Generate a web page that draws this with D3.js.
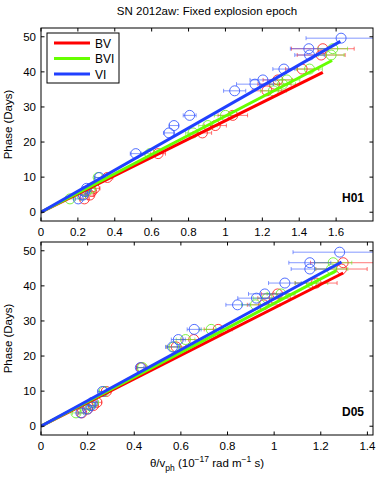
<!DOCTYPE html>
<html><head><meta charset="utf-8">
<script src="https://cdn.jsdelivr.net/npm/d3@7"></script>
<style>body{margin:0;background:#fff}svg{display:block;font-family:"Liberation Sans",Arial,sans-serif}</style>
</head><body><svg id="c" width="382" height="481"></svg>
<script>
// ---- data ----
const title = "SN 2012aw: Fixed explosion epoch";
const seriesNames = ["BV", "BVI", "VI"];
const phases = [3.8, 4.9, 5.9, 6.8, 9.9, 16.7, 22.6, 24.7, 27.6, 34.6, 36.5, 37.7, 40.8, 44.8, 46.6, 49.6];

// panel H01
const h01_BV_x   = [0.235, 0.265, 0.275, 0.29, 0.36, 0.635, 0.875, 0.945, 1.04, 1.225, 1.266, 1.284, 1.416, 1.519, 1.528];
const h01_BV_err = [0.02, 0.02, 0.02, 0.03, 0.03, 0.04, 0.05, 0.06, 0.08, 0.08, 0.09, 0.08, 0.09, 0.13, 0.17];
const h01_BVI_x  = [0.157, 0.22, 0.245, 0.27, 0.31, 0.59, 0.824, 0.905, 1.0, 1.26, 1.31, 1.333, 1.456, 1.573, 1.582];
const h01_BVI_err= [0.02, 0.02, 0.02, 0.02, 0.02, 0.03, 0.04, 0.05, 0.06, 0.07, 0.07, 0.07, 0.07, 0.07, 0.08];
const h01_VI_x   = [0.202, 0.229, 0.238, 0.247, 0.316, 0.514, 0.694, 0.721, 0.806, 1.05, 1.16, 1.203, 1.317, 1.456, 1.452, 1.627];
const h01_VI_err = [0.015, 0.015, 0.015, 0.02, 0.02, 0.03, 0.03, 0.025, 0.035, 0.06, 0.1, 0.07, 0.06, 0.08, 0.1, 0.19];
const h01_slopes = [26.1, 27.4, 30.0];
const h01_xEnd   = [1.528, 1.578, 1.623];

// panel D05
const d05_BV_x   = [0.175, 0.2, 0.225, 0.24, 0.28, 0.43, 0.58, 0.655, 0.76, 0.955, 1.0, 1.015, 1.18, 1.289, 1.296];
const d05_BV_err = [0.015, 0.015, 0.02, 0.02, 0.02, 0.02, 0.04, 0.05, 0.06, 0.07, 0.07, 0.07, 0.09, 0.11, 0.14];
const d05_BVI_x  = [0.15, 0.19, 0.21, 0.225, 0.27, 0.435, 0.57, 0.62, 0.73, 0.92, 0.97, 1.03, 1.16, 1.246, 1.253];
const d05_BVI_err= [0.015, 0.015, 0.015, 0.02, 0.02, 0.02, 0.03, 0.04, 0.05, 0.06, 0.06, 0.06, 0.07, 0.07, 0.08];
const d05_VI_x   = [0.171, 0.2, 0.214, 0.22, 0.264, 0.426, 0.564, 0.589, 0.657, 0.843, 0.924, 0.96, 1.046, 1.153, 1.153, 1.281];
const d05_VI_err = [0.012, 0.012, 0.015, 0.015, 0.02, 0.015, 0.03, 0.03, 0.03, 0.05, 0.08, 0.07, 0.07, 0.08, 0.09, 0.2];
const d05_slopes = [33.7, 35.0, 36.3];
const d05_xEnd   = [1.296, 1.267, 1.289];

const yTicks = [0, 10, 20, 30, 40, 50];
const h01_xTicks = [0, 0.2, 0.4, 0.6, 0.8, 1, 1.2, 1.4, 1.6];
const d05_xTicks = [0, 0.2, 0.4, 0.6, 0.8, 1, 1.2, 1.4];

const lineColors = ["#ff0000", "#66ff00", "#2040ff"];
const markColors = ["#ff2020", "#66ee22", "#3355ff"];

// ---- drawing ----
const svg = d3.select("#c");
const L = 41, R = 373;

svg.append("text").attr("x", 207).attr("y", 15).attr("text-anchor", "middle")
  .attr("font-size", 11.5).text(title);

function panel(top, bottom, xmax, xTicks, xs, errs, slopes, xEnd, tag) {
  const x = d3.scaleLinear().domain([0, xmax]).range([L, R]);
  const y = d3.scaleLinear().domain([-2.5, 52.5]).range([bottom, top]);
  const g = svg.append("g");
  const clipId = "clip" + tag;
  svg.append("clipPath").attr("id", clipId).append("rect")
    .attr("x", L).attr("y", top).attr("width", R - L).attr("height", bottom - top);
  const pg = g.append("g").attr("clip-path", `url(#${clipId})`);

  // points with horizontal error bars
  xs.forEach((arr, si) => {
    const pts = arr.map((v, i) => ({x: v, e: errs[si][i], p: phases[i]}));
    const sg = pg.append("g");
    sg.selectAll("line.eb").data(pts).join("line")
      .attr("x1", d => x(d.x - d.e)).attr("x2", d => x(d.x + d.e))
      .attr("y1", d => y(d.p)).attr("y2", d => y(d.p))
      .attr("stroke", markColors[si]).attr("stroke-opacity", 0.6).attr("stroke-width", 1);
    [-1, 1].forEach(s => {
      sg.selectAll("line.cap" + s).data(pts).join("line")
        .attr("x1", d => x(d.x + s * d.e)).attr("x2", d => x(d.x + s * d.e))
        .attr("y1", d => y(d.p) - 2).attr("y2", d => y(d.p) + 2)
        .attr("stroke", markColors[si]).attr("stroke-opacity", 0.6).attr("stroke-width", 1);
    });
    sg.selectAll("circle").data(pts).join("circle")
      .attr("cx", d => x(d.x)).attr("cy", d => y(d.p)).attr("r", 5)
      .attr("fill", "none").attr("stroke", markColors[si]).attr("stroke-width", 1)
      .attr("stroke-opacity", 0.85);
  });

  // fitted lines through origin
  slopes.forEach((s, si) => {
    pg.append("line")
      .attr("x1", x(0)).attr("y1", y(0))
      .attr("x2", x(xEnd[si])).attr("y2", y(s * xEnd[si]))
      .attr("stroke", lineColors[si]).attr("stroke-width", 3);
  });

  // axes box & ticks (inside, matlab style)
  const ax = g.append("g");
  ax.append("rect").attr("x", L).attr("y", top).attr("width", R - L).attr("height", bottom - top)
    .attr("fill", "none").attr("stroke", "#000").attr("stroke-width", 1);
  const tl = 3.5;
  xTicks.forEach(t => {
    ax.append("line").attr("x1", x(t)).attr("x2", x(t)).attr("y1", bottom).attr("y2", bottom - tl).attr("stroke", "#000");
    ax.append("line").attr("x1", x(t)).attr("x2", x(t)).attr("y1", top).attr("y2", top + tl).attr("stroke", "#000");
    ax.append("text").attr("x", x(t)).attr("y", bottom + 15).attr("text-anchor", "middle")
      .attr("font-size", 11.5).text(d3.format("~g")(t));
  });
  yTicks.forEach(t => {
    ax.append("line").attr("y1", y(t)).attr("y2", y(t)).attr("x1", L).attr("x2", L + tl).attr("stroke", "#000");
    ax.append("line").attr("y1", y(t)).attr("y2", y(t)).attr("x1", R).attr("x2", R - tl).attr("stroke", "#000");
    ax.append("text").attr("x", L - 5).attr("y", y(t) + 4).attr("text-anchor", "end")
      .attr("font-size", 11.5).text(t);
  });
  g.append("text").attr("transform", `translate(12,${(top + bottom) / 2}) rotate(-90)`)
    .attr("text-anchor", "middle").attr("font-size", 11.5).text("Phase (Days)");
  g.append("text").attr("x", 364).attr("y", bottom - 19).attr("text-anchor", "end")
    .attr("font-size", 12).attr("font-weight", "bold").text(tag);
}

panel(28, 221, 1.8, h01_xTicks,
  [h01_BV_x, h01_BVI_x, h01_VI_x], [h01_BV_err, h01_BVI_err, h01_VI_err], h01_slopes, h01_xEnd, "H01");
panel(242, 435, 1.424, d05_xTicks,
  [d05_BV_x, d05_BVI_x, d05_VI_x], [d05_BV_err, d05_BVI_err, d05_VI_err], d05_slopes, d05_xEnd, "D05");

// legend
const lg = svg.append("g");
lg.append("rect").attr("x", 47).attr("y", 33).attr("width", 72).attr("height", 50)
  .attr("fill", "#fff").attr("stroke", "#000").attr("stroke-width", 1);
seriesNames.forEach((n, i) => {
  const yy = 43 + i * 15.5;
  lg.append("line").attr("x1", 54).attr("x2", 90).attr("y1", yy).attr("y2", yy)
    .attr("stroke", lineColors[i]).attr("stroke-width", 3);
  lg.append("text").attr("x", 95).attr("y", yy + 4.5).attr("font-size", 12).text(n);
});

// x label
const xl = svg.append("text").attr("x", 207).attr("y", 467).attr("text-anchor", "middle").attr("font-size", 11.5);
xl.append("tspan").text("θ/v");
xl.append("tspan").attr("dy", 3.5).attr("font-size", 8.5).text("ph");
xl.append("tspan").attr("dy", -3.5).text(" (10");
xl.append("tspan").attr("dy", -5).attr("font-size", 8.5).text("−17");
xl.append("tspan").attr("dy", 5).text(" rad m");
xl.append("tspan").attr("dy", -5).attr("font-size", 8.5).text("−1");
xl.append("tspan").attr("dy", 5).text(" s)");
</script></body></html>
